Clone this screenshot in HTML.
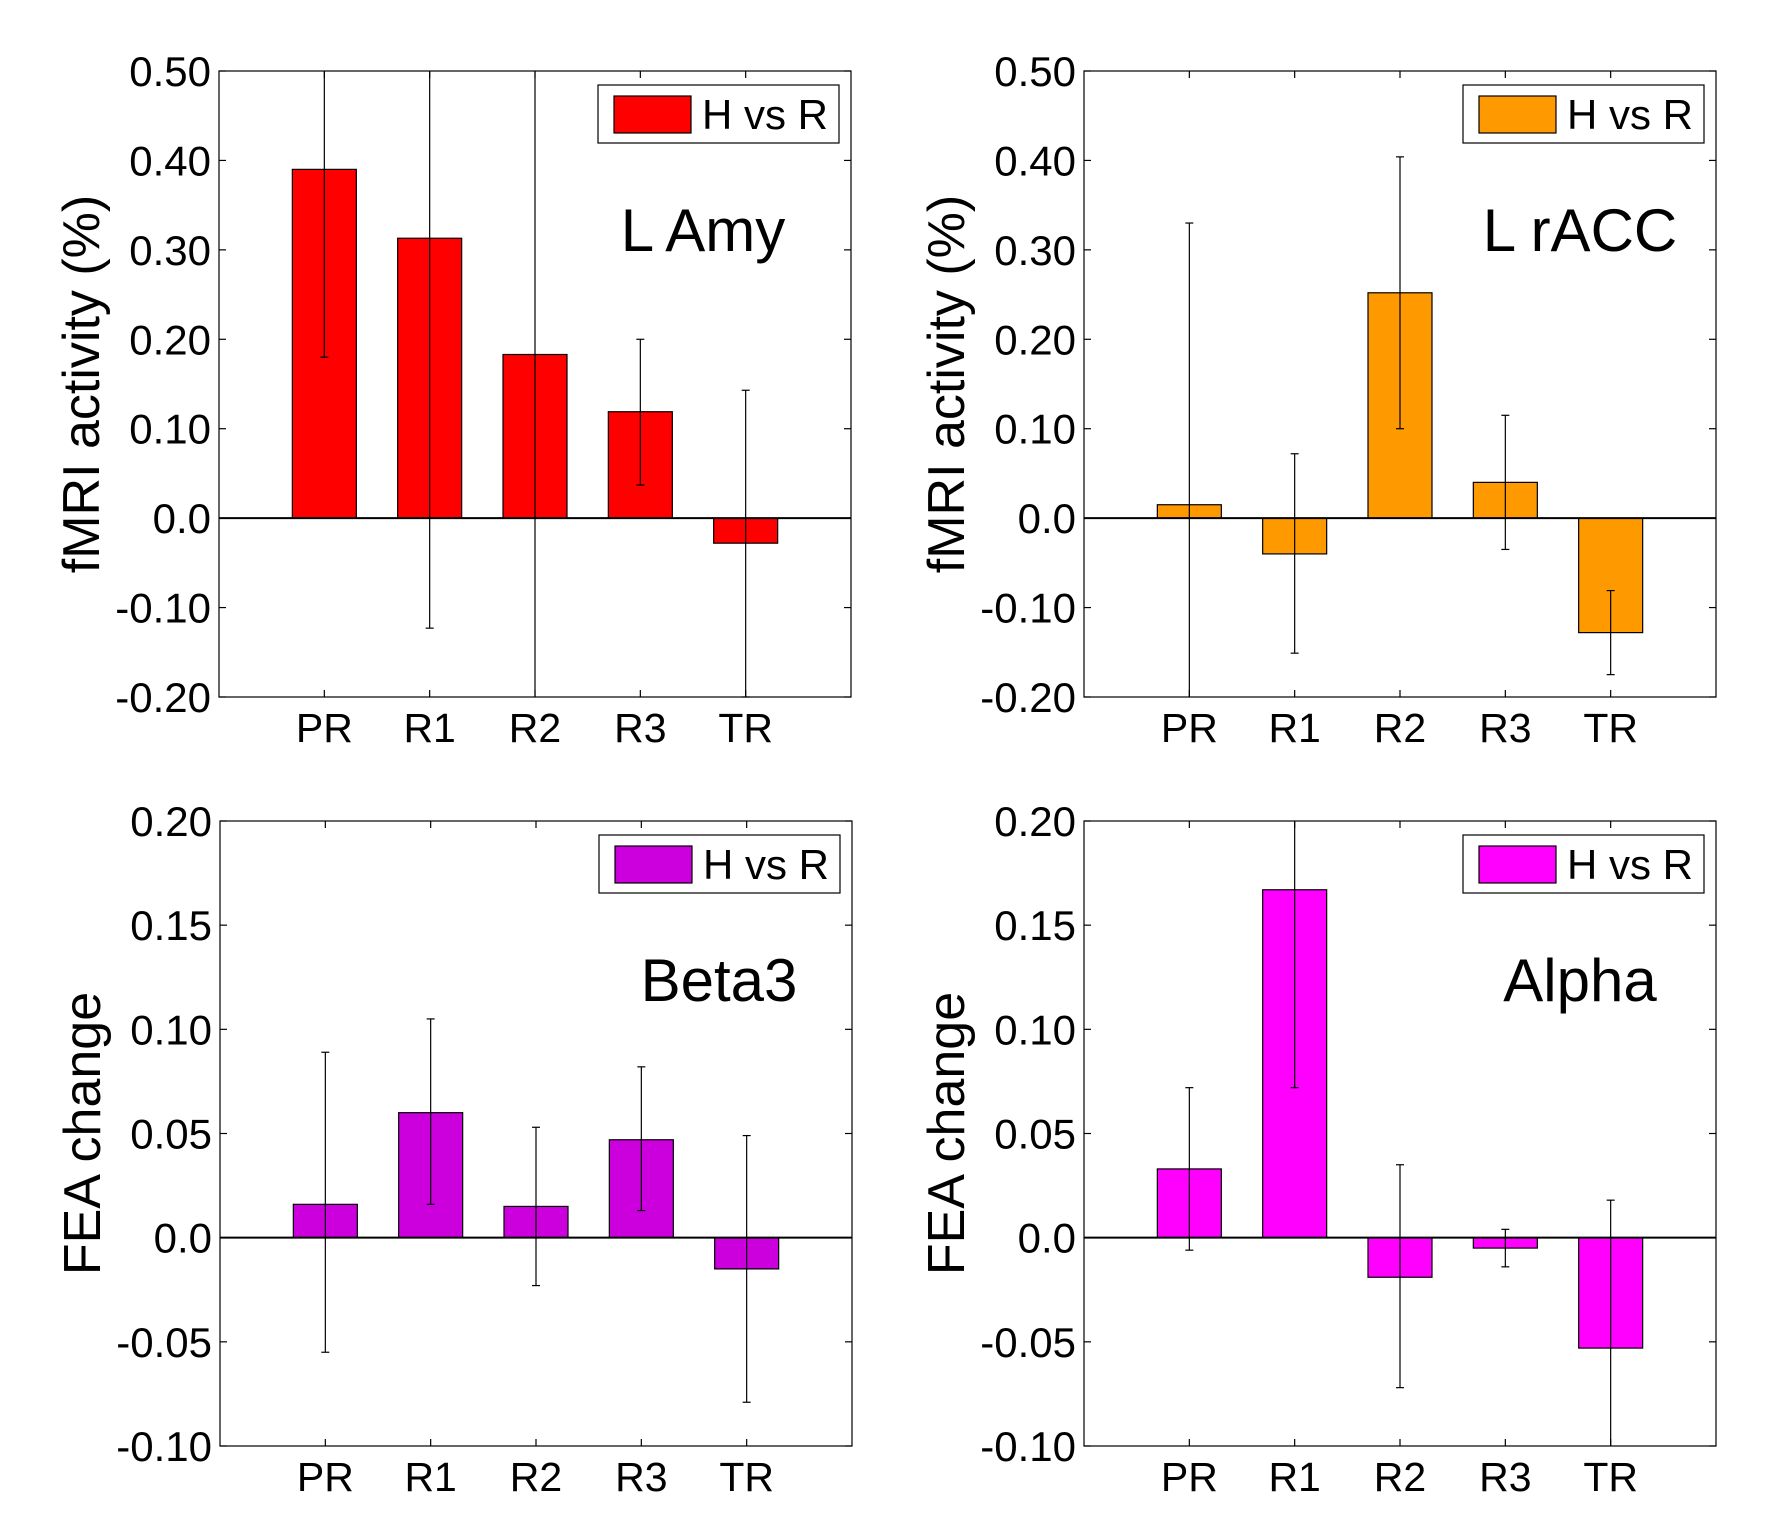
<!DOCTYPE html>
<html><head><meta charset="utf-8"><style>
html,body{margin:0;padding:0;background:#fff}
svg{display:block;font-family:"Liberation Sans",Arial,sans-serif}
</style></head><body>
<svg id="c" width="1792" height="1536" viewBox="0 0 1792 1536"></svg>
<script>
const categories=["PR","R1","R2","R3","TR"];
const amyValues=[0.39,0.313,0.183,0.119,-0.028];
const amyLow=[0.18,-0.123,-0.25,0.037,-0.2];
const amyHigh=[0.6,0.6,0.6,0.20,0.143];
const raccValues=[0.015,-0.04,0.252,0.04,-0.128];
const raccLow=[-0.25,-0.151,0.10,-0.035,-0.175];
const raccHigh=[0.33,0.072,0.404,0.115,-0.081];
const betaValues=[0.016,0.060,0.015,0.047,-0.015];
const betaLow=[-0.055,0.016,-0.023,0.013,-0.079];
const betaHigh=[0.089,0.105,0.053,0.082,0.049];
const alphaValues=[0.033,0.167,-0.019,-0.005,-0.053];
const alphaLow=[-0.006,0.072,-0.072,-0.014,-0.12];
const alphaHigh=[0.072,0.25,0.035,0.004,0.018];
const fmriTicks=[-0.2,-0.1,0,0.1,0.2,0.3,0.4,0.5];
const fmriTickLabels=["-0.20","-0.10","0.0","0.10","0.20","0.30","0.40","0.50"];
const feaTicks=[-0.1,-0.05,0,0.05,0.1,0.15,0.2];
const feaTickLabels=["-0.10","-0.05","0.0","0.05","0.10","0.15","0.20"];

const svg=document.getElementById('c');
const NS="http://www.w3.org/2000/svg";
function mk(tag,attrs,parent){const e=document.createElementNS(NS,tag);for(const k in attrs)e.setAttribute(k,attrs[k]);(parent||svg).appendChild(e);return e;}

function panel(p){
  const g=mk('g',{});
  
  
  const x0=p.x0,x1=p.x1,yT=p.yT,yB=p.yB;
  const y=v=>yB-(v-p.min)/(p.max-p.min)*(yB-yT);
  const cx=i=>x0+(i+1)*(x1-x0)/6.0+(p.dx||0);
  const clip=v=>Math.max(p.min,Math.min(p.max,v));
  p.values.forEach((v,i)=>{
    const r=mk('rect',{x:cx(i)-32,y:Math.min(y(v),y(0)),width:64,height:Math.abs(y(v)-y(0)),fill:p.color,stroke:'#000','stroke-width':1.2},g);
    
    
  });
  mk('line',{x1:x0,x2:x1,y1:y(0),y2:y(0),stroke:'#000','stroke-width':2},g);
  p.values.forEach((v,i)=>{
    const lo=clip(p.low[i]),hi=clip(p.high[i]);
    const e=mk('g',{},g);
    
    
    mk('line',{x1:cx(i),x2:cx(i),y1:y(lo),y2:y(hi),stroke:'#000','stroke-width':1.2},e);
    if(p.low[i]>=p.min) mk('line',{x1:cx(i)-4,x2:cx(i)+4,y1:y(lo),y2:y(lo),stroke:'#000','stroke-width':1.2},e);
    if(p.high[i]<=p.max) mk('line',{x1:cx(i)-4,x2:cx(i)+4,y1:y(hi),y2:y(hi),stroke:'#000','stroke-width':1.2},e);
  });
  mk('rect',{x:x0,y:yT,width:x1-x0,height:yB-yT,fill:'none',stroke:'#000','stroke-width':1.2},g);
  p.ticks.forEach((t,i)=>{
    const yy=y(t);
    mk('line',{x1:x0,x2:x0+7,y1:yy,y2:yy,stroke:'#000','stroke-width':1.2},g);
    mk('line',{x1:x1-7,x2:x1,y1:yy,y2:yy,stroke:'#000','stroke-width':1.2},g);
    const tx=mk('text',{x:x0-8,y:yy+15,'text-anchor':'end','font-size':42},g);
    tx.textContent=p.tickLabels[i];
    
    
  });
  categories.forEach((c,i)=>{
    mk('line',{x1:cx(i),x2:cx(i),y1:yB,y2:yB-7,stroke:'#000','stroke-width':1.2},g);
    mk('line',{x1:cx(i),x2:cx(i),y1:yT,y2:yT+7,stroke:'#000','stroke-width':1.2},g);
    const tx=mk('text',{x:cx(i),y:yB+45,'text-anchor':'middle','font-size':41},g);
    tx.textContent=c;
    
    
  });
  const yt=mk('text',{x:0,y:0,transform:`translate(${x0-120},${(yT+yB)/2}) rotate(-90)`,'text-anchor':'middle','font-size':52},g);
  yt.textContent=p.ytitle;
  
  
  const pl=mk('text',{x:p.lx,y:yT+180,'text-anchor':'middle','font-size':60},g);
  pl.textContent=p.label;
  
  
  const lg=mk('g',{},g);
  
  
  mk('rect',{x:x1-253,y:yT+14,width:241,height:58,fill:'#fff',stroke:'#000','stroke-width':1.2},lg);
  mk('rect',{x:x1-237,y:yT+25,width:77,height:37,fill:p.color,stroke:'#000','stroke-width':1.2},lg);
  const lt=mk('text',{x:x1-149,y:yT+58,'font-size':42},lg);
  lt.textContent='H vs R';
}
panel({name:'panel-l-amy',x0:219,x1:851,yT:71,yB:697,min:-0.2,max:0.5,values:amyValues,low:amyLow,high:amyHigh,color:'#ff0000',ticks:fmriTicks,tickLabels:fmriTickLabels,ytitle:'fMRI activity (%)',label:'L Amy',lx:703});
panel({name:'panel-l-racc',x0:1084,x1:1716,yT:71,yB:697,min:-0.2,max:0.5,values:raccValues,low:raccLow,high:raccHigh,color:'#ff9900',ticks:fmriTicks,tickLabels:fmriTickLabels,ytitle:'fMRI activity (%)',label:'L rACC',lx:1580});
panel({name:'panel-beta3',x0:220,x1:852,yT:821,yB:1446,min:-0.1,max:0.2,values:betaValues,low:betaLow,high:betaHigh,color:'#cc00dd',ticks:feaTicks,tickLabels:feaTickLabels,ytitle:'FEA change',label:'Beta3',lx:719});
panel({name:'panel-alpha',x0:1084,x1:1716,yT:821,yB:1446,min:-0.1,max:0.2,values:alphaValues,low:alphaLow,high:alphaHigh,color:'#ff00ff',ticks:feaTicks,tickLabels:feaTickLabels,ytitle:'FEA change',label:'Alpha',lx:1580});
</script>
</body></html>
